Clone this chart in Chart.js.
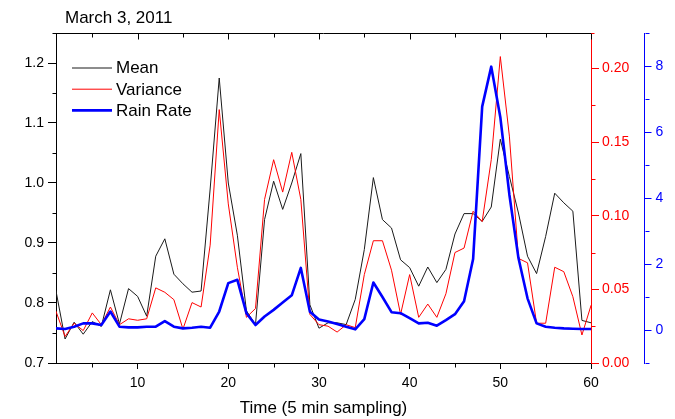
<!DOCTYPE html>
<html>
<head>
<meta charset="utf-8">
<script src="https://cdn.jsdelivr.net/npm/chart.js@4.4.1/dist/chart.umd.min.js"></script>
<style>
  html, body { margin: 0; padding: 0; background: #ffffff; }
  #wrap { width: 675px; height: 419px; }
</style>
</head>
<body>
<div id="wrap"><canvas id="c" width="675" height="419"></canvas></div>
<script>
// ---- data ----
const timeIdx = [1,2,3,4,5,6,7,8,9,10,11,12,13,14,15,16,17,18,19,20,
                 21,22,23,24,25,26,27,28,29,30,31,32,33,34,35,36,37,38,39,40,
                 41,42,43,44,45,46,47,48,49,50,51,52,53,54,55,56,57,58,59,60];

const meanVals = [0.820,0.740,0.768,0.748,0.769,0.761,0.822,0.765,0.824,0.811,
                  0.778,0.878,0.907,0.848,0.832,0.818,0.820,0.990,1.175,1.000,
                  0.913,0.787,0.764,0.939,1.003,0.956,1.000,1.049,0.797,0.758,
                  0.767,0.767,0.764,0.806,0.889,1.009,0.939,0.925,0.872,0.859,
                  0.828,0.860,0.834,0.856,0.915,0.949,0.949,0.936,0.960,1.073,
                  1.011,0.950,0.878,0.849,0.911,0.983,0.967,0.953,0.771,0.767];

const varianceVals = [0.035,0.018,0.027,0.022,0.034,0.026,0.038,0.026,0.030,0.029,
                      0.030,0.051,0.048,0.043,0.023,0.041,0.038,0.080,0.172,0.108,
                      0.065,0.031,0.037,0.111,0.138,0.116,0.143,0.111,0.033,0.026,
                      0.025,0.021,0.026,0.024,0.060,0.083,0.083,0.063,0.033,0.060,
                      0.031,0.040,0.031,0.047,0.075,0.078,0.103,0.096,0.138,0.208,
                      0.154,0.071,0.068,0.027,0.027,0.065,0.062,0.045,0.019,0.039];

const rainVals = [0.05,0.03,0.10,0.20,0.20,0.15,0.56,0.10,0.08,0.08,
                  0.10,0.10,0.27,0.10,0.05,0.07,0.10,0.07,0.56,1.42,
                  1.52,0.51,0.15,0.41,0.61,0.83,1.05,1.88,0.55,0.32,
                  0.26,0.18,0.10,0.02,0.33,1.44,1.00,0.54,0.51,0.36,
                  0.20,0.22,0.13,0.30,0.48,0.87,2.15,6.77,7.98,6.45,
                  4.10,2.18,0.96,0.20,0.10,0.07,0.05,0.04,0.03,0.03];

const seriesNames = ['Mean', 'Variance', 'Rain Rate'];
const chartTitle = 'March 3, 2011';
const xTitle = 'Time (5 min sampling)';

const xTicks = [10,20,30,40,50,60];
const xMinorTicks = [5,15,25,35,45,55];
const meanTicks = [0.7,0.8,0.9,1.0,1.1,1.2];
const meanMinorTicks = [0.75,0.85,0.95,1.05,1.15,1.25];
const varTicks = [0.00,0.05,0.10,0.15,0.20];
const varMinorTicks = [0.025,0.075,0.125,0.175];
const rainTicks = [0,2,4,6,8];
const rainMinorTicks = [-1,1,3,5,7,9];

// ---- styling ----
const FONT = "'Liberation Sans', Arial, sans-serif";
const C_MEAN = '#1a1a1a', C_VAR = '#ff0000', C_RAIN = '#0000ff';

function pts(vals) { return timeIdx.map((t, i) => ({ x: t, y: vals[i] })); }
function setTicks(list) { return (scale) => { scale.ticks = list.map(v => ({ value: v })); }; }

const extraAxes = {
  id: 'extraAxes',
  afterDraw(chart) {
    const { ctx, chartArea: a, scales } = chart;
    const sx = scales.x, sy = scales.y, sv = scales.yVar, sr = scales.yRain;
    const al = (p) => Math.round(p) + 0.5;
    const line = (x1, y1, x2, y2, c) => {
      ctx.strokeStyle = c; ctx.beginPath(); ctx.moveTo(x1, y1); ctx.lineTo(x2, y2); ctx.stroke();
    };
    ctx.save();
    ctx.lineWidth = 1;
    const top = al(a.top), bot = al(a.bottom), left = al(a.left), right = al(a.right);
    const blueX = al(sr.left);
    // top frame axis with inward ticks
    line(a.left, top, a.right, top, '#000');
    xTicks.forEach(v => { const p = al(sx.getPixelForValue(v)); line(p, top, p, top + 6, '#000'); });
    xMinorTicks.forEach(v => {
      const p = al(sx.getPixelForValue(v));
      line(p, top, p, top + 4, '#000');
      line(p, bot, p, bot + 4, '#000');
    });
    meanMinorTicks.forEach(v => { const p = al(sy.getPixelForValue(v)); line(left, p, left - 4, p, '#000'); });
    varMinorTicks.forEach(v => { const p = al(sv.getPixelForValue(v)); line(right, p, right + 4, p, C_VAR); });
    line(right, top, right + 3, top, C_VAR);
    rainMinorTicks.forEach(v => { const p = al(sr.getPixelForValue(v)); line(blueX, p, blueX + 4, p, C_RAIN); });

    // legend inside plot area
    ctx.font = '17px ' + FONT;
    ctx.textBaseline = 'middle';
    ctx.textAlign = 'left';
    chart.data.datasets.forEach((ds, i) => {
      const y = 68 + i * 21.2;
      ctx.strokeStyle = ds.borderColor;
      ctx.lineWidth = ds.borderWidth;
      ctx.beginPath(); ctx.moveTo(72, y); ctx.lineTo(112, y); ctx.stroke();
      ctx.fillStyle = '#000';
      ctx.fillText(ds.label, 116, y + 0.8);
    });

    // chart title
    ctx.textBaseline = 'alphabetic';
    ctx.fillStyle = '#000';
    ctx.fillText(chartTitle, 65, 22.7);
    ctx.restore();
  }
};

new Chart(document.getElementById('c'), {
  type: 'line',
  data: {
    datasets: [
      { label: seriesNames[0], data: pts(meanVals), yAxisID: 'y', borderColor: C_MEAN, borderWidth: 1, order: 2 },
      { label: seriesNames[1], data: pts(varianceVals), yAxisID: 'yVar', borderColor: C_VAR, borderWidth: 1, order: 1 },
      { label: seriesNames[2], data: pts(rainVals), yAxisID: 'yRain', borderColor: C_RAIN, borderWidth: 2.6, order: 0 }
    ]
  },
  options: {
    responsive: false,
    animation: false,
    devicePixelRatio: 1,
    elements: { point: { radius: 0 }, line: { tension: 0, borderJoinStyle: 'round', borderCapStyle: 'round' } },
    layout: { padding: { top: 33, left: 0, right: 0, bottom: 0 } },
    plugins: { legend: { display: false }, tooltip: { enabled: false }, title: { display: false } },
    scales: {
      x: {
        type: 'linear', position: 'bottom', min: 1, max: 60,
        afterBuildTicks: setTicks(xTicks),
        afterFit: (s) => { s.height = 56; },
        grid: { display: true, drawOnChartArea: false, drawTicks: true, tickLength: 6, color: '#000' },
        border: { display: true, color: '#000', width: 1 },
        ticks: { color: '#000', padding: 6, font: { family: FONT, size: 14 }, maxRotation: 0, callback: (v) => String(v) },
        title: { display: true, text: xTitle, color: '#000', font: { family: FONT, size: 17 }, padding: { top: 2, bottom: 0.5 } }
      },
      y: {
        type: 'linear', position: 'left', min: 0.7, max: 1.25,
        afterBuildTicks: setTicks(meanTicks),
        afterFit: (s) => { s.width = 56; },
        grid: { display: true, drawOnChartArea: false, drawTicks: true, tickLength: 8, color: '#000' },
        border: { display: true, color: '#000', width: 1 },
        ticks: { color: '#000', padding: 4, font: { family: FONT, size: 14 }, callback: (v) => Number(v).toFixed(1) }
      },
      yVar: {
        type: 'linear', position: 'right', min: 0, max: 0.224,
        afterBuildTicks: setTicks(varTicks),
        afterFit: (s) => { s.width = 53.5; },
        grid: { display: true, drawOnChartArea: false, drawTicks: true, tickLength: 8, color: C_VAR },
        border: { display: true, color: C_VAR, width: 1 },
        ticks: { color: C_VAR, padding: 3, font: { family: FONT, size: 14 }, callback: (v) => Number(v).toFixed(2) }
      },
      yRain: {
        type: 'linear', position: 'right', min: -1, max: 9,
        afterBuildTicks: setTicks(rainTicks),
        afterFit: (s) => { s.width = 30.5; },
        grid: { display: true, drawOnChartArea: false, drawTicks: true, tickLength: 7, color: C_RAIN },
        border: { display: true, color: C_RAIN, width: 1 },
        ticks: { color: C_RAIN, padding: 4, font: { family: FONT, size: 14 }, callback: (v) => String(v) }
      }
    }
  },
  plugins: [extraAxes]
});
</script>
</body>
</html>
